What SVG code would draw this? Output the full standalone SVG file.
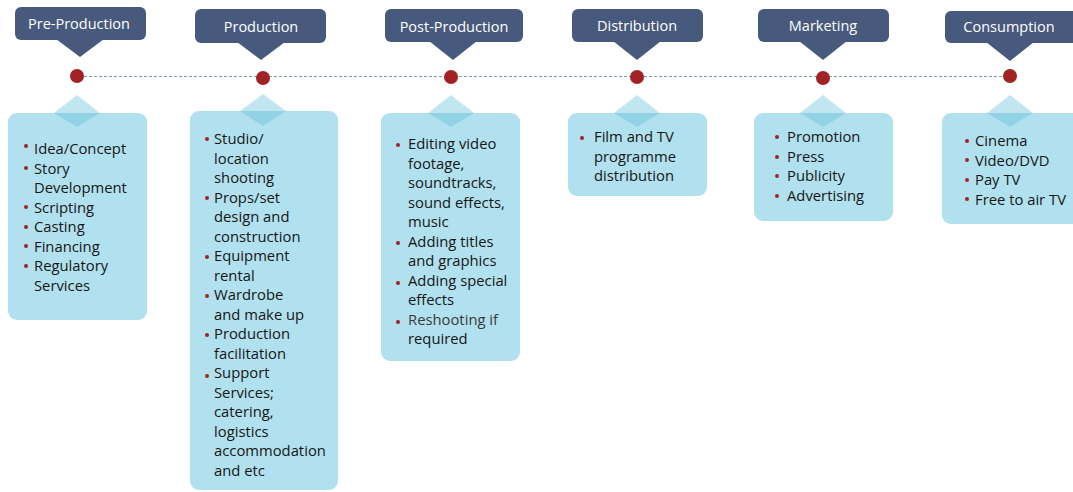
<svg xmlns="http://www.w3.org/2000/svg" width="1073" height="492" viewBox="0 0 1073 492">
<style>
.hdr{fill:#47597d}
.htx{fill:#fff;font-family:"Open Sans",sans-serif;font-size:14.5px;text-anchor:middle}
.dot{fill:#a02224}
.box{fill:#b1e1ee}
.dtop{fill:#c2e6f1}
.dbot{fill:#91d3e5}
.tx{fill:#161616;font-family:"Open Sans",sans-serif;font-size:14.8px}
.bul{fill:#a02224}
.conn{stroke:#7e9fb6;stroke-width:1;stroke-dasharray:3 2;fill:none}
</style>
<g id="connectors">
<line class="conn" x1="84" y1="76.5" x2="1003" y2="76.5"/>
</g>
<g id="pre-production">
<rect class="hdr" x="15" y="7" width="131" height="33" rx="6"/>
<path class="hdr" d="M56 39 L104 39 L80 57 Z"/>
<text class="htx" x="79" y="29">Pre-Production</text>
<circle class="dot" cx="77" cy="76" r="7"/>
<rect class="box" x="8" y="113" width="139" height="207" rx="9"/>
<path class="dtop" d="M54 113 L77 95 L100 113 Z"/>
<path class="dbot" d="M54 113 L100 113 L77 127 Z"/>
<circle class="bul" cx="26" cy="146" r="2"/>
<circle class="bul" cx="26" cy="168" r="2"/>
<circle class="bul" cx="26" cy="207" r="2"/>
<circle class="bul" cx="26" cy="227" r="2"/>
<circle class="bul" cx="26" cy="246" r="2"/>
<circle class="bul" cx="26" cy="266" r="2"/>
<text class="tx" x="34" y="154">Idea/Concept</text>
<text class="tx" x="34" y="173.5">Story</text>
<text class="tx" x="34" y="193">Development</text>
<text class="tx" x="34" y="212.5">Scripting</text>
<text class="tx" x="34" y="232">Casting</text>
<text class="tx" x="34" y="251.5">Financing</text>
<text class="tx" x="34" y="271">Regulatory</text>
<text class="tx" x="34" y="290.5">Services</text>
</g>
<g id="production">
<rect class="hdr" x="195" y="9" width="131" height="34" rx="6"/>
<path class="hdr" d="M237 42 L285 42 L261 60 Z"/>
<text class="htx" x="261" y="32">Production</text>
<circle class="dot" cx="263" cy="78" r="7"/>
<rect class="box" x="190" y="111" width="148" height="379" rx="9"/>
<path class="dtop" d="M240 111 L263 94 L286 111 Z"/>
<path class="dbot" d="M240 111 L286 111 L263 126 Z"/>
<circle class="bul" cx="207" cy="139" r="2"/>
<circle class="bul" cx="207" cy="198" r="2"/>
<circle class="bul" cx="207" cy="257" r="2"/>
<circle class="bul" cx="207" cy="296" r="2"/>
<circle class="bul" cx="207" cy="335" r="2"/>
<circle class="bul" cx="207" cy="376" r="2"/>
<text class="tx" x="214" y="144">Studio/</text>
<text class="tx" x="214" y="163.5">location</text>
<text class="tx" x="214" y="183">shooting</text>
<text class="tx" x="214" y="202.5">Props/set</text>
<text class="tx" x="214" y="222">design and</text>
<text class="tx" x="214" y="241.5">construction</text>
<text class="tx" x="214" y="261">Equipment</text>
<text class="tx" x="214" y="280.5">rental</text>
<text class="tx" x="214" y="300">Wardrobe</text>
<text class="tx" x="214" y="319.5">and make up</text>
<text class="tx" x="214" y="339">Production</text>
<text class="tx" x="214" y="358.5">facilitation</text>
<text class="tx" x="214" y="378">Support</text>
<text class="tx" x="214" y="397.5">Services;</text>
<text class="tx" x="214" y="417">catering,</text>
<text class="tx" x="214" y="436.5">logistics</text>
<text class="tx" x="214" y="456">accommodation</text>
<text class="tx" x="214" y="475.5">and etc</text>
</g>
<g id="post-production">
<rect class="hdr" x="385" y="9" width="138" height="33" rx="6"/>
<path class="hdr" d="M429 41 L477 41 L453 60 Z"/>
<text class="htx" x="454" y="32">Post-Production</text>
<circle class="dot" cx="451" cy="77" r="7"/>
<rect class="box" x="381" y="113" width="139" height="248" rx="9"/>
<path class="dtop" d="M428 113 L451 95 L474 113 Z"/>
<path class="dbot" d="M428 113 L474 113 L451 127 Z"/>
<circle class="bul" cx="398" cy="145" r="2"/>
<circle class="bul" cx="398" cy="243" r="2"/>
<circle class="bul" cx="398" cy="283" r="2"/>
<circle class="bul" cx="398" cy="322" r="2"/>
<text class="tx" x="408" y="149">Editing video</text>
<text class="tx" x="408" y="168.5">footage,</text>
<text class="tx" x="408" y="188">soundtracks,</text>
<text class="tx" x="408" y="207.5">sound effects,</text>
<text class="tx" x="408" y="227">music</text>
<text class="tx" x="408" y="246.5">Adding titles</text>
<text class="tx" x="408" y="266">and graphics</text>
<text class="tx" x="408" y="285.5">Adding special</text>
<text class="tx" x="408" y="305">effects</text>
<text class="tx" x="408" y="324.5" style="fill:#3a3a3a">Reshooting if</text>
<text class="tx" x="408" y="344">required</text>
</g>
<g id="distribution">
<rect class="hdr" x="572" y="9" width="131" height="33" rx="6"/>
<path class="hdr" d="M613 41 L661 41 L637 60 Z"/>
<text class="htx" x="637" y="31">Distribution</text>
<circle class="dot" cx="637" cy="77" r="7"/>
<rect class="box" x="568" y="113" width="139" height="83" rx="9"/>
<path class="dtop" d="M614 113 L637 95 L660 113 Z"/>
<path class="dbot" d="M614 113 L660 113 L637 127 Z"/>
<circle class="bul" cx="582" cy="138" r="2"/>
<text class="tx" x="594" y="142">Film and TV</text>
<text class="tx" x="594" y="161.5">programme</text>
<text class="tx" x="594" y="181">distribution</text>
</g>
<g id="marketing">
<rect class="hdr" x="758" y="9" width="131" height="33" rx="6"/>
<path class="hdr" d="M799 41 L847 41 L823 60 Z"/>
<text class="htx" x="823" y="31">Marketing</text>
<circle class="dot" cx="823" cy="78" r="7"/>
<rect class="box" x="754" y="113" width="139" height="108" rx="9"/>
<path class="dtop" d="M800 113 L823 95 L846 113 Z"/>
<path class="dbot" d="M800 113 L846 113 L823 127 Z"/>
<circle class="bul" cx="777" cy="137" r="2"/>
<circle class="bul" cx="777" cy="157" r="2"/>
<circle class="bul" cx="777" cy="176" r="2"/>
<circle class="bul" cx="777" cy="196" r="2"/>
<text class="tx" x="787" y="142">Promotion</text>
<text class="tx" x="787" y="161.5">Press</text>
<text class="tx" x="787" y="181">Publicity</text>
<text class="tx" x="787" y="200.5">Advertising</text>
</g>
<g id="consumption">
<rect class="hdr" x="945" y="11" width="140" height="32" rx="6"/>
<path class="hdr" d="M986 42 L1034 42 L1010 61 Z"/>
<text class="htx" x="1009" y="32">Consumption</text>
<circle class="dot" cx="1010" cy="76" r="7"/>
<rect class="box" x="942" y="113" width="145" height="111" rx="9"/>
<path class="dtop" d="M987 113 L1010 95 L1033 113 Z"/>
<path class="dbot" d="M987 113 L1033 113 L1010 127 Z"/>
<circle class="bul" cx="967" cy="141" r="2"/>
<circle class="bul" cx="967" cy="160" r="2"/>
<circle class="bul" cx="967" cy="180" r="2"/>
<circle class="bul" cx="967" cy="199" r="2"/>
<text class="tx" x="975" y="146">Cinema</text>
<text class="tx" x="975" y="165.5">Video/DVD</text>
<text class="tx" x="975" y="185">Pay TV</text>
<text class="tx" x="975" y="204.5">Free to air TV</text>
</g>
</svg>
